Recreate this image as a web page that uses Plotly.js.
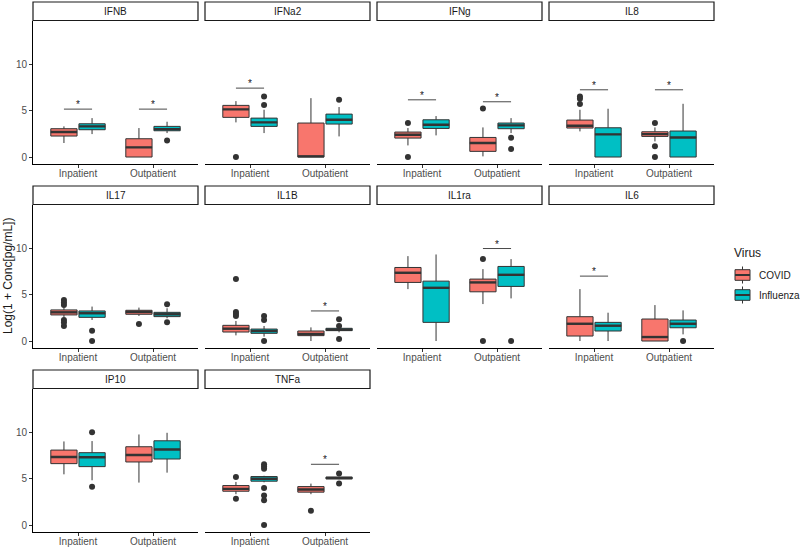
<!DOCTYPE html>
<html>
<head>
<meta charset="utf-8">
<script src="https://cdn.plot.ly/plotly-3.0.1.min.js"></script>
<style>
  html, body { margin: 0; padding: 0; background: #fff; }
  #chart { width: 800px; height: 547px; }
</style>
</head>
<body>
<div id="chart"></div>
<script>
// panels, in facet order
const cytokines = ['IFNB', 'IFNa2', 'IFNg', 'IL8', 'IL17', 'IL1B', 'IL1ra', 'IL6', 'IP10', 'TNFa'];
const groups = ['Inpatient', 'Outpatient'];
const viruses = ['COVID', 'Influenza'];
const virusColors = ['#F8766D', '#00BFC4'];

// box stats, each entry is [Inpatient, Outpatient]
const covidLow = [[1.51, 0], [3.73, 0], [1.25, 0.07], [2.76, 1.68], [2.55, 2.70], [0.61, 0], [5.59, 3.98], [0, 0], [5.46, 4.57], [3.32, 3.32]];
const covidQ1 = [[2.26, 0], [4.27, 0], [2.04, 0.61], [3.12, 2.22], [2.81, 2.88], [0.97, 0.58], [6.31, 5.30], [0.54, 0], [6.61, 6.79], [3.64, 3.54]];
const covidMed = [[2.69, 1.04], [5.13, 0.07], [2.40, 1.51], [3.37, 2.47], [3.09, 3.13], [1.33, 0.76], [7.35, 6.31], [1.86, 0.43], [7.32, 7.54], [3.89, 3.82]];
const covidQ3 = [[3.05, 1.97], [5.56, 3.66], [2.69, 2.11], [3.98, 2.72], [3.35, 3.31], [1.69, 1.08], [7.92, 6.67], [2.62, 2.37], [8.07, 8.43], [4.25, 4.14]];
const covidHigh = [[3.30, 3.12], [6.02, 6.34], [3.12, 3.19], [5.09, 3.19], [3.60, 3.60], [2.16, 1.47], [9.14, 7.74], [5.59, 3.87], [9.00, 9.75], [4.64, 4.46]];
const covidOut = [
  [[], []], [[0], []], [[3.66, 0], [5.23]], [[6.52, 6.27, 5.70], [3.66, 1.15, 0]],
  [[4.42, 4.14, 3.88, 2.27, 2.00, 1.62], [1.83]], [[6.69, 3.13, 2.91, 2.70], []],
  [[], [8.82, 0]], [[], []], [[], []], [[5.18, 2.82], [1.54]]
];

const fluLow = [[2.47, 2.58], [2.58, 2.22], [2.33, 2.58], [0, 0], [2.27, 2.45], [0.47, 0.94], [0, 4.59], [0, 0.72], [4.82, 5.64], [4.60, 4.93]];
const fluQ1 = [[2.94, 2.83], [3.30, 3.55], [3.08, 3.05], [0, 0], [2.55, 2.63], [0.83, 1.12], [2.01, 5.88], [1.08, 1.43], [6.29, 7.11], [4.72, 4.97]];
const fluMed = [[3.30, 3.01], [3.73, 4.01], [3.48, 3.41], [2.44, 2.11], [2.99, 2.88], [1.08, 1.22], [5.73, 7.13], [1.65, 1.86], [7.29, 8.14], [4.98, 5.07]];
const fluQ3 = [[3.58, 3.30], [4.19, 4.62], [4.01, 3.66], [3.15, 2.80], [3.24, 3.09], [1.29, 1.37], [6.45, 8.03], [2.01, 2.26], [7.79, 9.07], [5.22, 5.16]];
const fluHigh = [[4.19, 3.80], [5.09, 5.38], [4.41, 4.19], [5.20, 5.73], [3.71, 3.53], [1.62, 1.45], [9.32, 8.82], [3.05, 3.30], [9.04, 9.93], [5.30, 5.20]];
const fluOut = [
  [[], [1.79]], [[5.59, 6.52], [6.16]], [[], [2.08, 0.86]], [[], []],
  [[1.12, 0], [3.96, 2.01]], [[2.70, 2.27, 0], [2.34, 1.62, 0.22]],
  [[], [0]], [[], [0]], [[10.0, 4.11], []], [[6.55, 6.30, 6.05, 3.98, 3.19, 2.68, 0], [5.54, 4.46]]
];

// significance brackets: panel index, group index, height
const sigPanel = [0, 0, 1, 2, 2, 3, 3, 5, 6, 7, 9];
const sigGroup = [0, 1, 0, 0, 1, 0, 1, 1, 1, 0, 1];
const sigY = [5.16, 5.16, 7.42, 6.16, 5.95, 7.24, 7.24, 3.24, 9.96, 6.99, 6.54];

const W = 800, H = 547;
const font = 'Liberation Sans, Arial, sans-serif';
const dodge = [-0.1875, 0.1875];
const boxWidth = 0.35;
const edge = '#333333';

const stats = [
  { low: covidLow, q1: covidQ1, med: covidMed, q3: covidQ3, high: covidHigh, out: covidOut },
  { low: fluLow, q1: fluQ1, med: fluMed, q3: fluQ3, high: fluHigh, out: fluOut }
];

function colDomain(c) { return [(33 + 172 * c) / W, (198 + 172 * c) / W]; }
function rowDomain(r) { return [1 - (164 + 184 * r) / H, 1 - (20.5 + 184 * r) / H]; }
function px(x) { return x / W; }
function py(y) { return 1 - y / H; }

const data = [];
const layout = {
  width: W, height: H,
  margin: { l: 0, r: 0, t: 0, b: 0 },
  paper_bgcolor: '#fff', plot_bgcolor: '#fff',
  font: { family: font, size: 10, color: '#1A1A1A' },
  showlegend: false,
  shapes: [],
  annotations: []
};

cytokines.forEach((name, i) => {
  const col = i % 4, row = Math.floor(i / 4);
  const n = i === 0 ? '' : String(i + 1);
  const xd = colDomain(col), yd = rowDomain(row);

  layout['xaxis' + n] = {
    domain: xd, anchor: 'y' + n, range: [0.4, 2.6],
    tickvals: [1, 2], ticktext: groups,
    showgrid: false, zeroline: false,
    showline: true, linecolor: '#000', linewidth: 1,
    ticks: 'outside', ticklen: 3, tickcolor: edge, tickwidth: 1,
    ticklabelstandoff: -3,
    tickfont: { size: 10, color: '#4D4D4D' }, fixedrange: true
  };
  layout['yaxis' + n] = {
    domain: yd, anchor: 'x' + n, range: [-0.75, 14.7],
    tickvals: [0, 5, 10], showgrid: false, zeroline: false,
    showline: col === 0, linecolor: '#000', linewidth: 1,
    ticks: col === 0 ? 'outside' : '', ticklen: 3, tickcolor: edge, tickwidth: 1,
    showticklabels: col === 0,
    tickfont: { size: 10, color: '#4D4D4D' }, fixedrange: true
  };

  // facet strip
  const sy0 = py(20.5 + 184 * row), sy1 = py(2 + 184 * row);
  layout.shapes.push({
    type: 'rect', xref: 'paper', yref: 'paper',
    x0: xd[0], x1: xd[1], y0: sy0, y1: sy1,
    fillcolor: '#fff', line: { color: '#1A1A1A', width: 1.2 }
  });
  layout.annotations.push({
    xref: 'paper', yref: 'paper', x: (xd[0] + xd[1]) / 2, y: (sy0 + sy1) / 2,
    xanchor: 'center', yanchor: 'middle',
    text: name, showarrow: false, font: { size: 10, color: '#1A1A1A' }
  });

  stats.forEach((s, v) => {
    const pos = [1 + dodge[v], 2 + dodge[v]];
    data.push({
      type: 'box', name: viruses[v],
      xaxis: 'x' + n, yaxis: 'y' + n,
      x: pos, q1: s.q1[i], median: s.med[i], q3: s.q3[i],
      lowerfence: s.low[i], upperfence: s.high[i],
      width: boxWidth, whiskerwidth: 0, boxpoints: false,
      fillcolor: virusColors[v], line: { color: edge, width: 1 },
      hoverinfo: 'skip'
    });
    // thicker median bar like ggplot
    const mx = [], my = [];
    pos.forEach((p, g) => {
      mx.push(p - boxWidth / 2, p + boxWidth / 2, null);
      my.push(s.med[i][g], s.med[i][g], null);
    });
    data.push({
      type: 'scatter', mode: 'lines', x: mx, y: my, xaxis: 'x' + n, yaxis: 'y' + n,
      line: { color: edge, width: 2.4 }, hoverinfo: 'skip'
    });
    // outliers
    const ox = [], oy = [];
    pos.forEach((p, g) => {
      s.out[i][g].forEach(val => { ox.push(p); oy.push(val); });
    });
    if (ox.length) {
      data.push({
        type: 'scatter', mode: 'markers', x: ox, y: oy, xaxis: 'x' + n, yaxis: 'y' + n,
        marker: { color: edge, size: 6 }, hoverinfo: 'skip'
      });
    }
  });
});

// significance brackets
sigY.forEach((y, k) => {
  const i = sigPanel[k], g = sigGroup[k];
  const n = i === 0 ? '' : String(i + 1);
  layout.shapes.push({
    type: 'line', xref: 'x' + n, yref: 'y' + n,
    x0: g + 1 + dodge[0], x1: g + 1 + dodge[1], y0: y, y1: y,
    line: { color: '#1A1A1A', width: 0.8 }
  });
  layout.annotations.push({
    xref: 'x' + n, yref: 'y' + n, x: g + 1, y: y, xanchor: 'center', yanchor: 'bottom', yshift: -3,
    text: '*', showarrow: false, font: { size: 10, color: '#1A1A1A' }
  });
});

// legend, drawn by hand in the ggplot style (box keys with whiskers)
layout.annotations.push({
  xref: 'paper', yref: 'paper', x: px(732), y: py(253), xanchor: 'left', yanchor: 'middle',
  text: 'Virus', showarrow: false, font: { size: 12, color: '#1A1A1A' }
});
viruses.forEach((v, k) => {
  const cy = 275 + 20 * k;
  layout.shapes.push(
    { type: 'line', xref: 'paper', yref: 'paper', x0: px(742.5), x1: px(742.5), y0: py(cy - 8.5), y1: py(cy + 8.5),
      line: { color: edge, width: 1 } },
    { type: 'rect', xref: 'paper', yref: 'paper', x0: px(735), x1: px(750), y0: py(cy - 5.3), y1: py(cy + 5.3),
      fillcolor: virusColors[k], line: { color: edge, width: 1 } },
    { type: 'line', xref: 'paper', yref: 'paper', x0: px(735), x1: px(750), y0: py(cy), y1: py(cy),
      line: { color: edge, width: 2 } }
  );
  layout.annotations.push({
    xref: 'paper', yref: 'paper', x: px(757), y: py(cy), xanchor: 'left', yanchor: 'middle',
    text: v, showarrow: false, font: { size: 10, color: '#1A1A1A' }
  });
});

// shared y title
layout.annotations.push({
  xref: 'paper', yref: 'paper', x: px(8), y: py(276), textangle: -90,
  xanchor: 'center', yanchor: 'middle',
  text: 'Log(1 + Conc[pg/mL])', showarrow: false,
  font: { size: 12, color: '#1A1A1A' }
});

Plotly.newPlot('chart', data, layout, { displayModeBar: false, staticPlot: true });
</script>
</body>
</html>
